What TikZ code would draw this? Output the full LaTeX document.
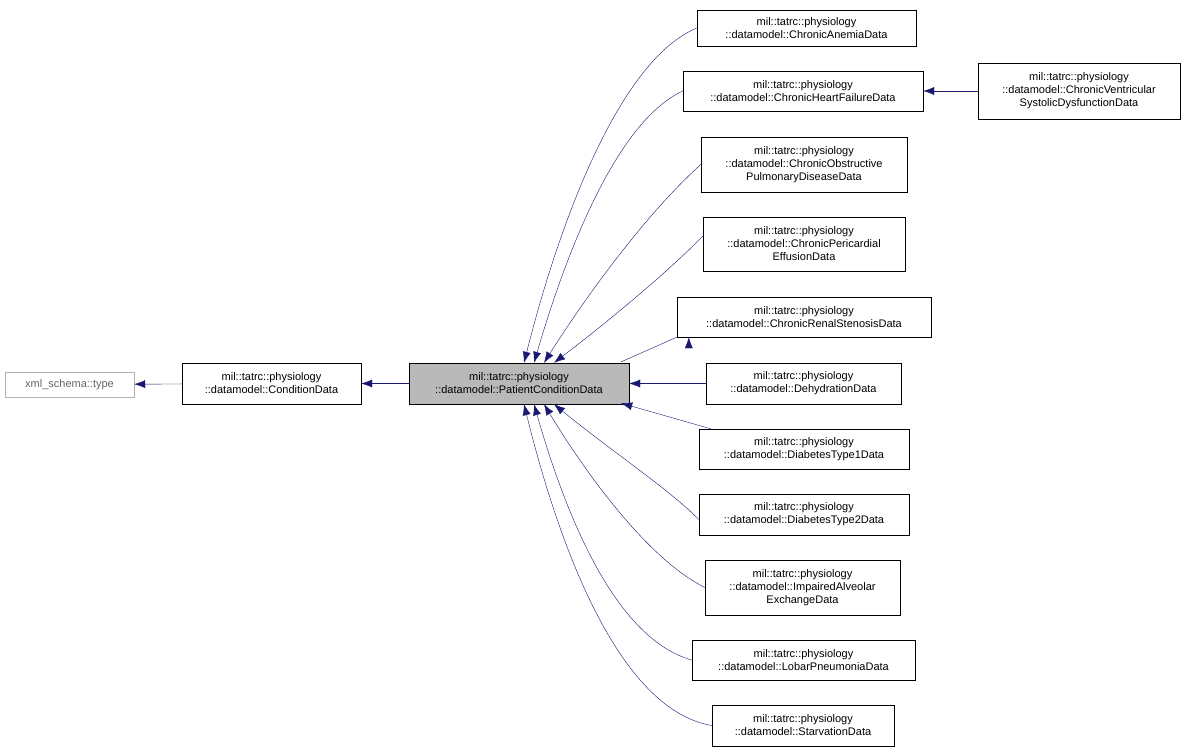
\documentclass[tikz,border=0pt]{standalone}
\usepackage{fontspec}
\setmainfont{Liberation Sans}
\usetikzlibrary{arrows.meta}
\definecolor{edge}{HTML}{191970}
\begin{document}
\begin{tikzpicture}[x=1pt,y=-1pt,
 box/.style={draw=black,fill=white,inner sep=0pt,align=center,font=\fontsize{11}{13}\selectfont},
 arr/.style={draw=edge,{Latex[length=11pt,width=8pt]}-}]
\useasboundingbox (0,0) rectangle (1188,752);
\def\B#1#2#3#4#5#6{\node[box,minimum width=#4-#2,minimum height=#5-#3] (#1) at ({(#2+#4)/2},{(#3+#5)/2}) {#6};}
\node[draw=gray!60,inner sep=0pt,minimum width=129,minimum height=25,text=gray!80!black,font=\fontsize{11}{13}\selectfont] (xml) at (69.5,384.5) {xml\_schema::type};
\B{cd}{182}{363}{361}{404}{mil::tatrc::physiology\\::datamodel::ConditionData}
\node[box,fill=gray!55,minimum width=220,minimum height=41] (pc) at (519,383.5) {mil::tatrc::physiology\\::datamodel::PatientConditionData};
\B{an}{697}{10}{916}{46}{mil::tatrc::physiology\\::datamodel::ChronicAnemiaData}
\B{hf}{683}{71}{923}{111}{mil::tatrc::physiology\\::datamodel::ChronicHeartFailureData}
\B{vs}{978}{63}{1180}{119}{mil::tatrc::physiology\\::datamodel::ChronicVentricular\\SystolicDysfunctionData}
\B{ob}{701}{137}{907}{192}{mil::tatrc::physiology\\::datamodel::ChronicObstructive\\PulmonaryDiseaseData}
\B{pe}{703}{217}{905}{271}{mil::tatrc::physiology\\::datamodel::ChronicPericardial\\EffusionData}
\B{rs}{677}{297}{931}{337}{mil::tatrc::physiology\\::datamodel::ChronicRenalStenosisData}
\B{de}{706}{363}{901}{404}{mil::tatrc::physiology\\::datamodel::DehydrationData}
\B{d1}{699}{429}{909}{469}{mil::tatrc::physiology\\::datamodel::DiabetesType1Data}
\B{d2}{699}{494}{909}{535}{mil::tatrc::physiology\\::datamodel::DiabetesType2Data}
\B{ia}{705}{560}{900}{615}{mil::tatrc::physiology\\::datamodel::ImpairedAlveolar\\ExchangeData}
\B{lp}{692}{640}{915}{680}{mil::tatrc::physiology\\::datamodel::LobarPneumoniaData}
\B{st}{712}{705}{894}{746}{mil::tatrc::physiology\\::datamodel::StarvationData}
\draw[arr] (xml) -- (cd);
\draw[arr] (cd) -- (pc);
\draw[arr] (hf) -- (vs);
\draw[arr] (pc) -- (de);
\draw[arr] (pc.north east) ++(-8,-1) -- (rs.south west) ++(12,0);
\draw[arr] ([xshift=-8pt,yshift=1pt]pc.south east) -- ([xshift=12pt]d1.north west);
\draw[arr] ([xshift=5pt]pc.north) .. controls (560,220) and (620,60) .. (an.west);
\draw[arr] ([xshift=15pt]pc.north) .. controls (570,240) and (620,120) .. (hf.west);
\draw[arr] ([xshift=25pt]pc.north) .. controls (590,290) and (650,210) .. (ob.west);
\draw[arr] ([xshift=35pt]pc.north) .. controls (610,320) and (670,270) .. ([yshift=8pt]pe.west);
\draw[arr] ([xshift=35pt]pc.south) .. controls (610,450) and (670,490) .. ([yshift=-5pt]d2.west);
\draw[arr] ([xshift=25pt]pc.south) .. controls (590,480) and (650,560) .. (ia.west);
\draw[arr] ([xshift=15pt]pc.south) .. controls (570,530) and (620,640) .. (lp.west);
\draw[arr] ([xshift=5pt]pc.south) .. controls (560,550) and (620,710) .. (st.west);
\end{tikzpicture}
\end{document}
